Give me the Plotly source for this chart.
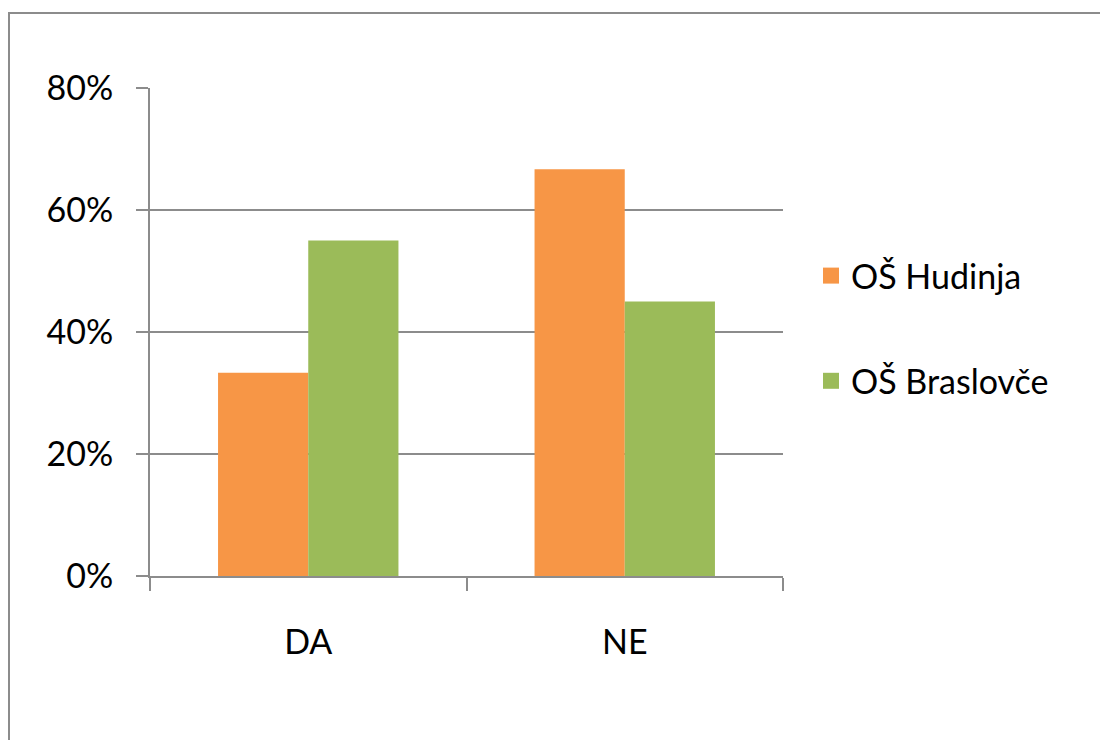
import plotly.graph_objects as go

categories = ["DA", "NE"]
series_names = ["OŠ Hudinja", "OŠ Braslovče"]
hudinja = [33.3, 66.7]
braslovce = [55.0, 45.0]
colors = ["#F79646", "#9BBB59"]
y_ticks = [0, 20, 40, 60, 80]
y_tick_text = ["0%", "20%", "40%", "60%", "80%"]

# page body has an 8px margin
OFF = 8
W, H = 1108 - OFF, 740 - OFF
L, T = 150 - OFF, 88 - OFF
pw, ph = 633, 488
R, B = W - L - pw, H - T - ph

def px_x(x):
    return (x - OFF - L) / pw

def px_y(y):
    return (T + ph - (y - OFF)) / ph

fig = go.Figure()
for name, vals, col, grp in zip(series_names, [hudinja, braslovce], colors, ["a", "b"]):
    fig.add_trace(go.Bar(x=categories, y=vals, name=name, marker=dict(color=col, line=dict(width=0)),
                         legendgroup=grp, showlegend=False))
    fig.add_trace(go.Scatter(x=[None], y=[None], mode="markers", name=name, legendgroup=grp,
                             marker=dict(symbol="square", size=22, color=col)))

axc = "#8C8C8C"
font = "Lato, 'Open Sans', sans-serif"
fig.update_layout(
    width=W, height=H,
    margin=dict(l=L, r=R, t=T, b=B, autoexpand=False),
    paper_bgcolor="white", plot_bgcolor="white",
    barmode="group", bargap=0.43, bargroupgap=0,
    font=dict(family=font, size=34, color="black"),
    showlegend=True,
    legend=dict(x=px_x(811), y=px_y(247), xanchor="left", yanchor="top",
                traceorder="grouped", tracegroupgap=58, font=dict(size=34),
                itemsizing="trace", itemwidth=30, bgcolor="rgba(0,0,0,0)"),
    xaxis=dict(showline=True, linecolor=axc, linewidth=2, ticks="outside",
               tickson="boundaries", ticklen=13, tickcolor=axc, tickwidth=2,
               ticklabelstandoff=35, showgrid=False, fixedrange=True),
    yaxis=dict(range=[0, 80], tickvals=y_ticks, ticktext=y_tick_text, showline=True,
               linecolor=axc, linewidth=2, ticks="outside", ticklen=12,
               tickcolor=axc, tickwidth=2, showgrid=True, gridcolor=axc,
               gridwidth=1.5, zeroline=False, ticklabelstandoff=16, fixedrange=True),
    shapes=[dict(type="rect", xref="paper", yref="paper",
                 x0=px_x(9), x1=px_x(1130),
                 y0=px_y(760), y1=px_y(13),
                 line=dict(color=axc, width=2), fillcolor="rgba(0,0,0,0)", layer="below")],
)

fig.write_html("out.html")
